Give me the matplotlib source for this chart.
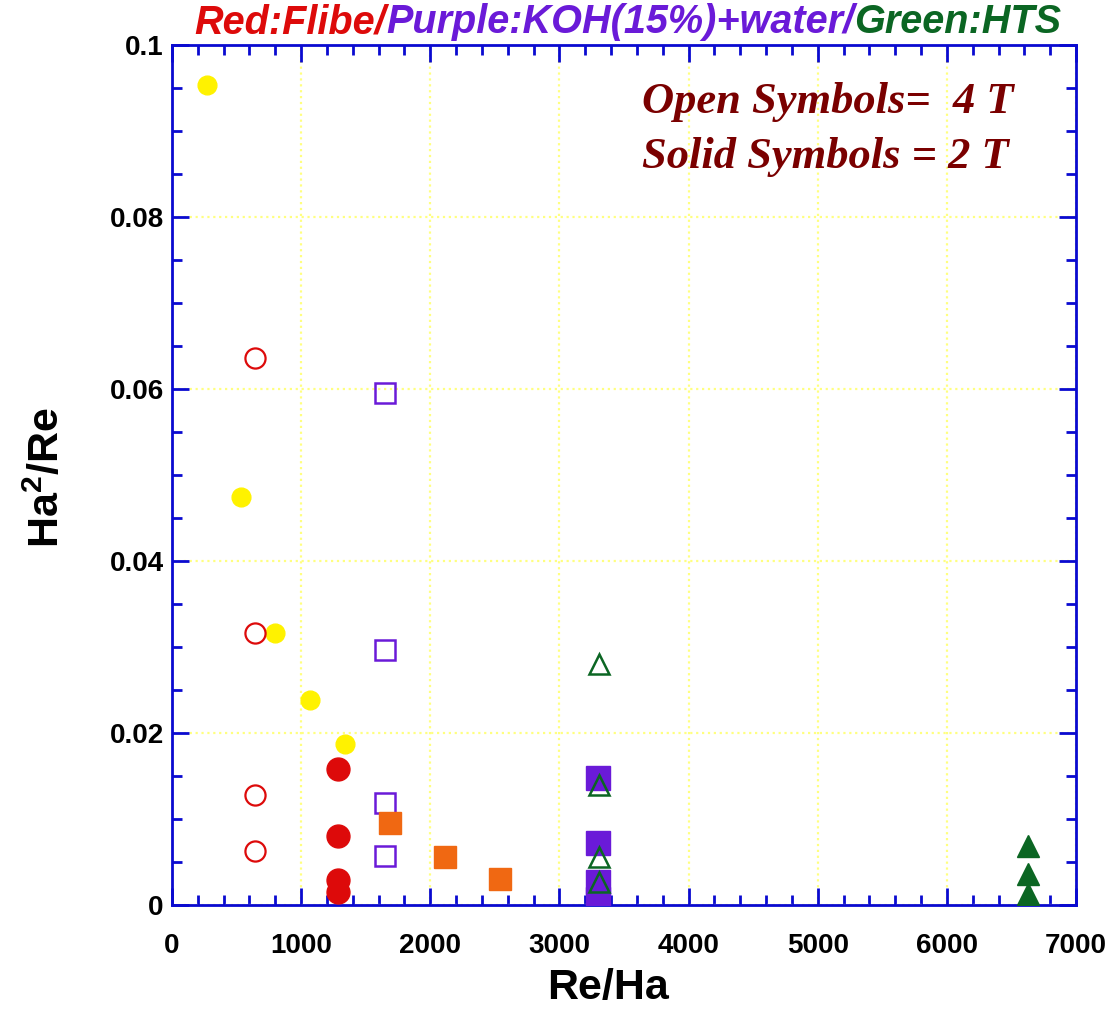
import matplotlib
matplotlib.use("Agg")
import matplotlib.pyplot as plt
from matplotlib.ticker import MultipleLocator, FuncFormatter
from matplotlib.offsetbox import TextArea, HPacker, AnchoredOffsetbox

# ---- data ----
# Yellow filled circles
yellow_x = [271, 534, 798, 1069, 1340]
yellow_y = [0.0953, 0.0474, 0.0316, 0.0238, 0.0187]
# Red (Flibe): open = 4 T, solid = 2 T
flibe_open_x = [643, 643, 643, 643]
flibe_open_y = [0.0636, 0.0316, 0.0128, 0.0063]
flibe_solid_x = [1285, 1285, 1285, 1285]
flibe_solid_y = [0.0158, 0.0080, 0.0029, 0.0015]
# Purple (KOH + water)
koh_open_x = [1649, 1649, 1649, 1649]
koh_open_y = [0.0595, 0.0297, 0.0119, 0.0057]
koh_solid_x = [3299, 3299, 3299, 3299]
koh_solid_y = [0.0148, 0.0072, 0.0027, 0.0007]
# Orange filled squares
orange_x = [1688, 2114, 2540]
orange_y = [0.0095, 0.0056, 0.0030]
# Green (HTS)
hts_open_x = [3310, 3310, 3310, 3310]
hts_open_y = [0.0280, 0.0140, 0.0056, 0.0027]
hts_solid_x = [6629, 6629, 6629, 6629]
hts_solid_y = [0.0069, 0.0036, 0.0013, 0.0005]

title_parts = [("Red:Flibe/", "#dd0a0a"),
               ("Purple:KOH(15%)+water/", "#6a1ad8"),
               ("Green:HTS", "#0b6623")]

W, H = 1116, 1013
plt.rcParams['font.family'] = ['Liberation Sans', 'DejaVu Sans']
plt.rcParams['mathtext.default'] = 'regular'

fig = plt.figure(figsize=(W / 100, H / 100), dpi=100)
ax = fig.add_axes([172 / W, 1 - 905 / H, 904 / W, 860 / H])

blue = '#0a0ad0'
red = '#dd0a0a'
purple = '#6a1ad8'
green = '#0b6623'
orange = '#f06812'
yellow = '#fff200'

ax.plot(yellow_x, yellow_y, 'o', ms=13.5, color=yellow, mec=yellow, zorder=3)
ax.plot(flibe_open_x, flibe_open_y, 'o', ms=14.5, mfc='none', mec=red, mew=1.6, zorder=3)
ax.plot(flibe_solid_x, flibe_solid_y, 'o', ms=16.5, color=red, zorder=3)
ax.plot(koh_open_x, koh_open_y, 's', ms=15, mfc='none', mec=purple, mew=1.8, zorder=3)
ax.plot(orange_x, orange_y, 's', ms=16, color=orange, zorder=3)
ax.plot(koh_solid_x, koh_solid_y, 's', ms=17.5, color=purple, zorder=3)
ax.plot(hts_open_x, hts_open_y, '^', ms=15, mfc='none', mec=green, mew=1.8, zorder=4)
ax.plot(hts_solid_x, hts_solid_y, '^', ms=16, color=green, zorder=4)

ax.set_xlim(0, 7000)
ax.set_ylim(0, 0.1)
ax.xaxis.set_major_locator(MultipleLocator(1000))
ax.xaxis.set_minor_locator(MultipleLocator(200))
ax.yaxis.set_major_locator(MultipleLocator(0.02))
ax.yaxis.set_minor_locator(MultipleLocator(0.005))
ax.yaxis.set_major_formatter(FuncFormatter(lambda v, p: '{:g}'.format(round(v, 3))))

ax.grid(True, which='major', color='#ffff80', linestyle=':', linewidth=1.6)
ax.set_axisbelow(True)

for s in ax.spines.values():
    s.set_color(blue)
    s.set_linewidth(2)
ax.tick_params(which='both', direction='in', top=True, right=True, color=blue, width=2)
ax.tick_params(which='major', length=12.5)
ax.tick_params(which='minor', length=7)
ax.tick_params(axis='x', which='major', pad=20, labelsize=20)
ax.tick_params(axis='y', which='major', pad=6, labelsize=20)
for lab in ax.get_xticklabels() + ax.get_yticklabels():
    lab.set_fontweight('bold')

fig.text(608 / W, 1 - 988 / H, 'Re/Ha', fontsize=31, fontweight='bold',
         ha='center', va='center')
fig.text(47 / W, 1 - 478 / H, r'Ha$^{2}$/Re', fontsize=31, fontweight='bold',
         rotation=90, ha='center', va='center')

# multi-colour title
areas = [TextArea(t, textprops=dict(color=c, fontsize=28.5, fontweight='bold',
                                    fontstyle='italic'))
         for t, c in title_parts]
box = HPacker(children=areas, align='baseline', pad=0, sep=0)
anch = AnchoredOffsetbox(loc='center', child=box, frameon=False,
                         bbox_to_anchor=(628 / W, 1 - 22 / H),
                         bbox_transform=fig.transFigure, borderpad=0, pad=0)
fig.add_artist(anch)

note_kw = dict(fontsize=32, fontweight='bold', fontstyle='italic',
               family='Liberation Serif', color='#7a0000', ha='left', va='center')
fig.text(642 / W, 1 - 102 / H, 'Open Symbols=  4 T', **note_kw)
fig.text(642 / W, 1 - 157 / H, 'Solid Symbols = 2 T', **note_kw)

fig.savefig('out.png', dpi=100)
